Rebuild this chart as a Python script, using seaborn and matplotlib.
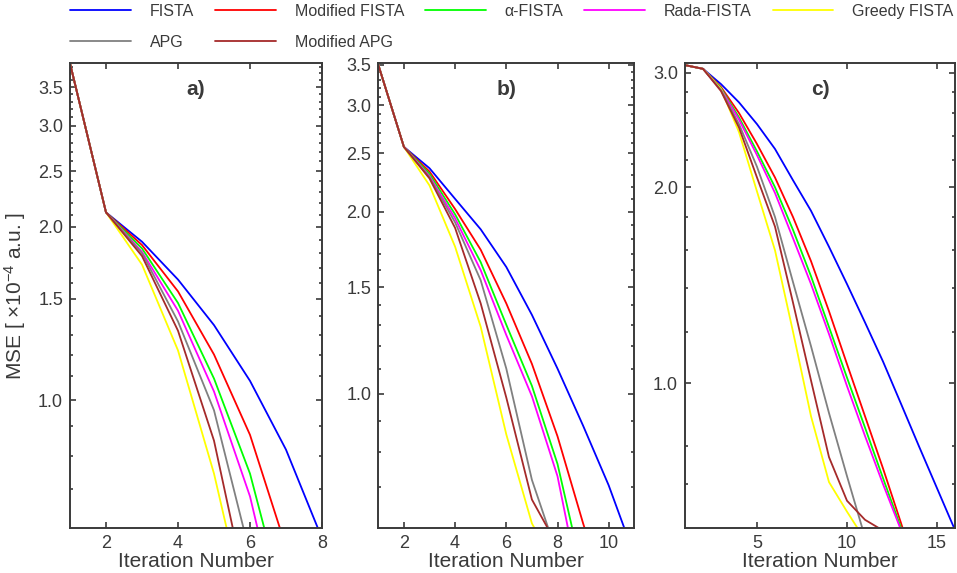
import matplotlib
matplotlib.use("Agg")
import matplotlib.pyplot as plt
from matplotlib.lines import Line2D
from matplotlib.ticker import FixedLocator, FixedFormatter, NullFormatter
import pandas as pd
import seaborn as sns

# ---- data -------------------------------------------------------------
methods = ["FISTA", "Modified FISTA", "α-FISTA", "Rada-FISTA",
           "Greedy FISTA", "APG", "Modified APG"]
colors = ["#0000ff", "#ff0000", "#00ff00", "#ff00ff",
          "#ffff00", "#808080", "#a52a2a"]

# a) MSE per iteration (x10^-4 a.u.)
a_fista = [3.85, 2.12, 1.885, 1.62, 1.35, 1.08, 0.82, 0.575]
a_mfista = [3.85, 2.12, 1.86, 1.545, 1.20, 0.87, 0.555]
a_alpha = [3.85, 2.12, 1.835, 1.475, 1.09, 0.745, 0.43]
a_rada = [3.85, 2.12, 1.81, 1.43, 1.035, 0.68, 0.37]
a_greedy = [3.85, 2.12, 1.72, 1.22, 0.745, 0.40]
a_apg = [3.85, 2.12, 1.80, 1.37, 0.96, 0.54]
a_mapg = [3.85, 2.12, 1.78, 1.32, 0.85, 0.435]

# b)
b_fista = [3.5, 2.56, 2.36, 2.10, 1.87, 1.62, 1.35, 1.10, 0.885, 0.705, 0.54]
b_mfista = [3.5, 2.56, 2.33, 2.02, 1.73, 1.41, 1.12, 0.85, 0.61, 0.45]
b_alpha = [3.5, 2.56, 2.31, 1.98, 1.65, 1.30, 1.03, 0.765, 0.50]
b_rada = [3.5, 2.56, 2.29, 1.95, 1.60, 1.25, 0.99, 0.73, 0.45]
b_greedy = [3.5, 2.56, 2.21, 1.75, 1.29, 0.856, 0.61, 0.51]
b_apg = [3.5, 2.56, 2.28, 1.92, 1.54, 1.10, 0.72, 0.54]
b_mapg = [3.5, 2.56, 2.27, 1.88, 1.41, 0.985, 0.668, 0.56]

# c)
c_fista = [3.08, 3.04, 2.88, 2.70, 2.50, 2.29, 2.05, 1.84, 1.62, 1.42,
           1.24, 1.08, 0.93, 0.80, 0.69, 0.595]
c_mfista = [3.08, 3.04, 2.85, 2.60, 2.33, 2.07, 1.80, 1.54, 1.29, 1.07,
            0.89, 0.74, 0.61, 0.50]
c_alpha = [3.08, 3.04, 2.84, 2.56, 2.27, 2.00, 1.72, 1.46, 1.22, 1.02,
           0.855, 0.715, 0.60, 0.50]
c_rada = [3.08, 3.04, 2.83, 2.54, 2.24, 1.96, 1.67, 1.42, 1.19, 0.99,
          0.83, 0.70, 0.595, 0.49]
c_greedy = [3.08, 3.04, 2.83, 2.43, 1.97, 1.60, 1.20, 0.89, 0.705, 0.635, 0.575]
c_apg = [3.08, 3.04, 2.82, 2.50, 2.15, 1.80, 1.43, 1.14, 0.90, 0.72, 0.58]
c_mapg = [3.08, 3.04, 2.81, 2.47, 2.07, 1.74, 1.33, 1.01, 0.77, 0.66, 0.617, 0.594]

panels = {
    "a)": [a_fista, a_mfista, a_alpha, a_rada, a_greedy, a_apg, a_mapg],
    "b)": [b_fista, b_mfista, b_alpha, b_rada, b_greedy, b_apg, b_mapg],
    "c)": [c_fista, c_mfista, c_alpha, c_rada, c_greedy, c_apg, c_mapg],
}

xlims = {"a)": (1, 8), "b)": (1, 11), "c)": (1, 16)}
ylims = {"a)": (0.6, 3.85), "b)": (0.6, 3.52), "c)": (0.6, 3.1)}
xticks = {"a)": [2, 4, 6, 8], "b)": [2, 4, 6, 8, 10], "c)": [5, 10, 15]}
yticks = {"a)": [1.0, 1.5, 2.0, 2.5, 3.0, 3.5],
          "b)": [1.0, 1.5, 2.0, 2.5, 3.0, 3.5],
          "c)": [1.0, 2.0, 3.0]}
fine = [0.7, 0.8, 0.9, 1.1, 1.2, 1.3, 1.4, 1.6, 1.7, 1.8, 1.9, 2.1, 2.2, 2.3,
        2.4, 2.6, 2.7, 2.8, 2.9, 3.1, 3.2, 3.3, 3.4, 3.6, 3.7, 3.8]
yminor = {"a)": fine, "b)": fine,
          "c)": [0.7, 0.8, 1.2, 1.4, 1.6, 1.8, 2.2, 2.4, 2.6, 2.8]}

# ---- style ------------------------------------------------------------
sns.set_style("ticks")
ink = "#3a3a3a"
plt.rcParams.update({
    "font.family": ["Liberation Sans", "DejaVu Sans"],
    "mathtext.fontset": "custom",
    "mathtext.rm": "Liberation Sans",
    "mathtext.it": "Liberation Sans:italic",
    "mathtext.bf": "Liberation Sans:bold",
    "axes.edgecolor": ink,
    "axes.linewidth": 1.4,
    "xtick.color": ink,
    "ytick.color": ink,
    "xtick.labelcolor": ink,
    "ytick.labelcolor": ink,
    "text.color": ink,
    "axes.labelcolor": ink,
})

fig = plt.figure(figsize=(9.57, 5.73), dpi=100)
W, H = 957, 573
boxes = {"a)": (70, 322), "b)": (378.3, 634.3), "c)": (685, 955)}
top_px, bot_px = 63.3, 527.7

palette = dict(zip(methods, colors))

for key, series in panels.items():
    x0, x1 = boxes[key]
    ax = fig.add_axes([x0 / W, (H - bot_px) / H, (x1 - x0) / W,
                       (bot_px - top_px) / H])
    rows = []
    for name, vals in zip(methods, series):
        for i, v in enumerate(vals, start=1):
            rows.append({"Method": name, "Iteration": i, "MSE": v})
    df = pd.DataFrame(rows)
    sns.lineplot(data=df, x="Iteration", y="MSE", hue="Method",
                 hue_order=methods, palette=palette, estimator=None,
                 sort=False, linewidth=1.3, legend=False, ax=ax)
    ax.set_yscale("log")
    ax.set_xlim(*xlims[key])
    ax.set_ylim(*ylims[key])
    ax.xaxis.set_major_locator(FixedLocator(xticks[key]))
    ax.yaxis.set_major_locator(FixedLocator(yticks[key]))
    ax.yaxis.set_major_formatter(
        FixedFormatter([f"{t:.1f}" for t in yticks[key]]))
    ax.yaxis.set_minor_locator(FixedLocator(yminor[key]))
    ax.yaxis.set_minor_formatter(NullFormatter())
    ax.tick_params(which="both", direction="in", top=True, right=True,
                   width=1.2, labelsize=13)
    ax.tick_params(which="major", length=4.5, pad=5)
    ax.tick_params(which="minor", length=2.5)
    ax.set_xlabel("Iteration Number", fontsize=15, labelpad=0)
    if key == "a)":
        ax.set_ylabel("MSE [ ×10$^{-4}$ a.u. ]", fontsize=15)
        ax.yaxis.set_label_coords(-0.165, 0.5)
    else:
        ax.set_ylabel("")
    ax.text(0.5, 0.944, key, transform=ax.transAxes, ha="center",
            va="center", fontsize=15, fontweight="bold", color=ink)

# legend laid out row-wise: first row FISTA variants, second row APG variants
handles = {m: Line2D([], [], color=c, linewidth=1.3)
           for m, c in zip(methods, colors)}
order = ["FISTA", "APG", "Modified FISTA", "Modified APG",
         "α-FISTA", "Rada-FISTA", "Greedy FISTA"]
fig.legend([handles[m] for m in order], order, loc="upper left",
           bbox_to_anchor=(70 / W, 1 - 4 / H), ncol=5, frameon=False,
           fontsize=11.5, handlelength=3.8, handletextpad=1.2,
           columnspacing=1.3, labelspacing=1.0, borderpad=0,
           borderaxespad=0)

fig.savefig("out.png", dpi=100)
